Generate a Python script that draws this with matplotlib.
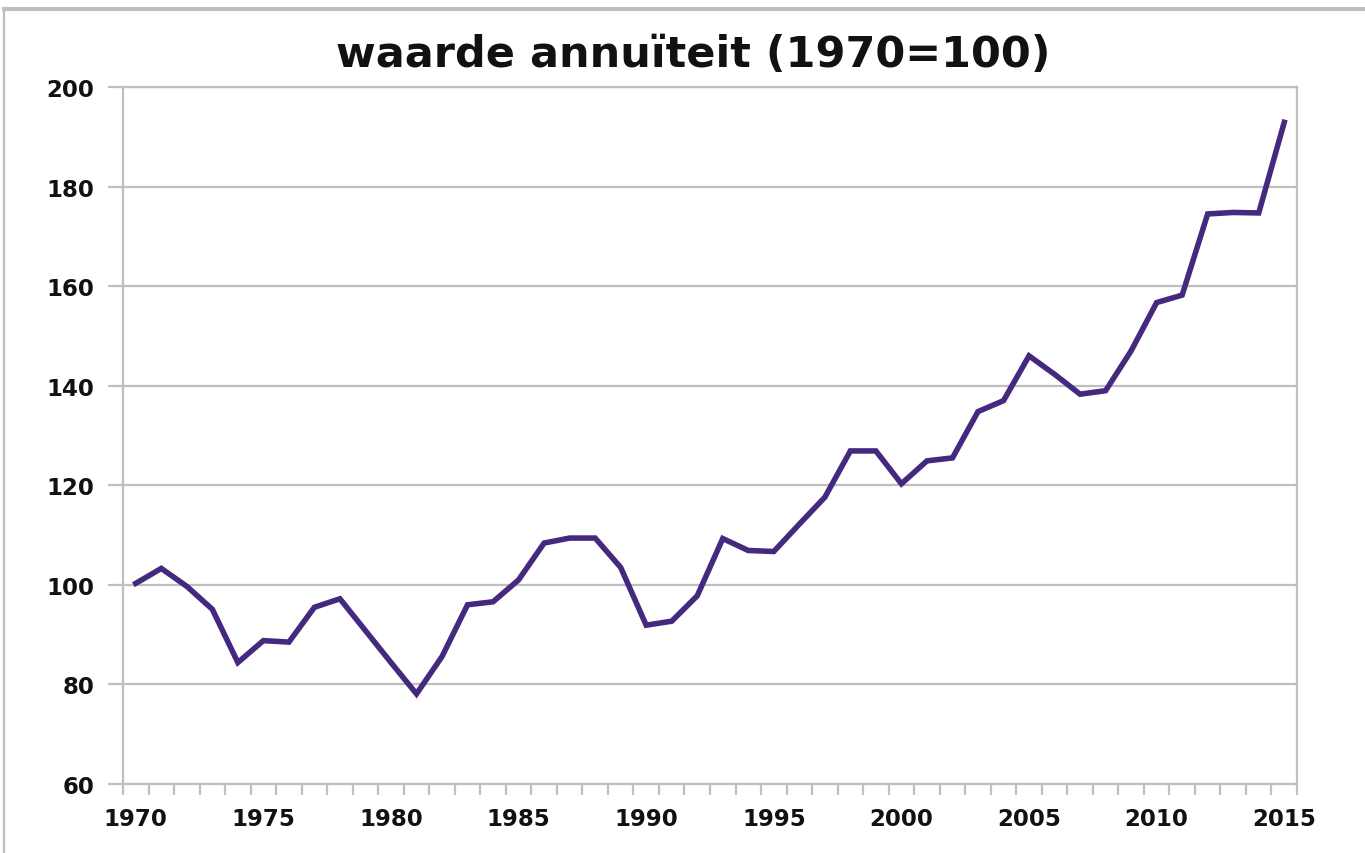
import matplotlib
matplotlib.use("Agg")
import matplotlib.pyplot as plt
from matplotlib.lines import Line2D

years = list(range(1970, 2016))
values = [100.3, 103.3, 99.7, 95.1, 84.4, 88.8, 88.5, 95.5, 97.2, 90.8,
          84.4, 78.1, 85.6, 96.0, 96.6, 101.0, 108.4, 109.4, 109.4, 103.5,
          91.9, 92.7, 97.8, 109.3, 106.9, 106.7, 112.2, 117.6, 126.9, 126.9,
          120.3, 124.9, 125.5, 134.8, 137.0, 146.0, 142.3, 138.3, 139.0, 147.0,
          156.7, 158.2, 174.5, 174.8, 174.7, 192.9]
title = "waarde annuïteit (1970=100)"
ytick_vals = [60, 80, 100, 120, 140, 160, 180, 200]
xtick_vals = [1970, 1975, 1980, 1985, 1990, 1995, 2000, 2005, 2010, 2015]

W, H = 1365, 854
fig = plt.figure(figsize=(W / 100, H / 100), dpi=100)
fig.patch.set_facecolor("white")

L, R, T, B = 123, 1297, 88, 785
ax = fig.add_axes([L / W, 1 - B / H, (R - L) / W, (B - T) / H])

grid_c = "#BFBFBF"
ax.plot(years, values, color="#45297F", lw=4.0, solid_joinstyle="miter", zorder=3)

ax.set_xlim(1969.5, 2015.5)
ax.set_ylim(60, 200)
ax.set_yticks(ytick_vals)
ax.yaxis.grid(True, color=grid_c, lw=1.6)
ax.set_axisbelow(True)

ax.set_xticks(xtick_vals)
ax.set_xticks([y + 0.5 for y in range(1969, 2016)], minor=True)
ax.tick_params(axis="x", which="major", length=0, pad=16.5)
ax.tick_params(axis="x", which="minor", length=8, width=1.6, color=grid_c, direction="out")
ax.tick_params(axis="y", length=11, width=1.6, color=grid_c, direction="out", pad=9.5)

for s in ax.spines.values():
    s.set_color(grid_c)
    s.set_linewidth(1.6)

for lab in ax.get_xticklabels() + ax.get_yticklabels():
    lab.set_fontfamily("DejaVu Sans")
    lab.set_fontweight("bold")
    lab.set_fontsize(16.5)
    lab.set_color("#111111")

fig.text(693 / W, 1 - 55 / H, title, ha="center", va="center",
         fontsize=31, fontweight="bold", family="DejaVu Sans", color="#111111")

# outer chart border (left and top edges)
fig.add_artist(Line2D([4 / W, 4 / W], [0, 1 - 10 / H], transform=fig.transFigure,
                      color=grid_c, lw=1.6))
fig.add_artist(Line2D([4 / W, 1], [1 - 10 / H, 1 - 10 / H], transform=fig.transFigure,
                      color=grid_c, lw=3))

fig.savefig("out.png", dpi=100, facecolor="white")
